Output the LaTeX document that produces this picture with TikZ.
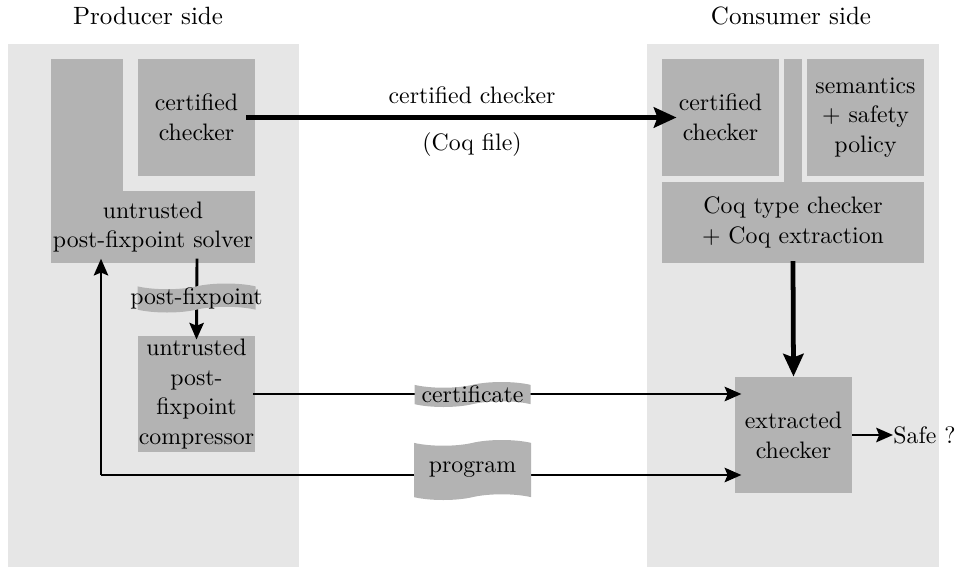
\documentclass[tikz,border=0pt]{standalone}
\usetikzlibrary{arrows.meta,shapes.symbols}
\definecolor{panel}{gray}{0.902}
\definecolor{boxc}{gray}{0.702}
\begin{document}
\begin{tikzpicture}[x=0.42pt,y=-0.42pt,
  txt/.style={font=\fontsize{10}{12.5}\selectfont, align=center},
  blk/.style={txt, fill=boxc, inner sep=0pt},
  ttl/.style={font=\fontsize{10.5}{13}\selectfont, inner sep=0pt},
  tp/.style={tape, fill=boxc, inner sep=0pt, tape bend height=2.4pt},
  thin arrow/.style={line width=1.2pt, -{Stealth[length=7pt,width=6pt,inset=1.2pt]}},
  thick arrow/.style={line width=2pt, -{Stealth[length=9.5pt,width=8.5pt,inset=1.5pt]}}]
\useasboundingbox (0,0) rectangle (956,567);
% panels
\fill[panel] (8,44) rectangle (299,567);
\fill[panel] (647,44) rectangle (939,567);
\node[ttl] (prod) at (148,16) {Producer side};
\node[ttl] (cons) at (791,16) {Consumer side};
% producer boxes
\fill[boxc] (51,59) rectangle (123,192);
\node[blk, minimum width=204*0.42pt, minimum height=72*0.42pt] (solver) at (153,227) {untrusted\\post-fixpoint solver};
\node[blk, minimum width=117*0.42pt, minimum height=117*0.42pt] (lcert) at (196.5,117.5) {certified\\checker};
\node[blk, minimum width=117*0.42pt, minimum height=116*0.42pt] (comp) at (196.5,394) {untrusted\\post-\\fixpoint\\compressor};
% consumer boxes
\fill[boxc] (784,59) rectangle (802,183);
\node[blk, minimum width=117*0.42pt, minimum height=117*0.42pt] (rcert) at (720.5,117.5) {certified\\checker};
\node[blk, minimum width=117*0.42pt, minimum height=117*0.42pt] (sem) at (865.5,117.5) {semantics\\+ safety\\policy};
\node[blk, minimum width=262*0.42pt, minimum height=81*0.42pt] (coq) at (793,222.5) {Coq type checker\\+ Coq extraction};
\node[blk, minimum width=117*0.42pt, minimum height=116*0.42pt] (extr) at (793.5,435) {extracted\\checker};
\node[txt, inner sep=0pt, anchor=west] (safe) at (893,435) {Safe ?};
% labels of the top connector
\node[txt, inner sep=0pt, anchor=base] (cclab) at (472,103) {certified checker};
\node[txt, inner sep=0pt, anchor=base] (coqfile) at (472,150) {(Coq file)};
% connectors
\draw[thick arrow] ([xshift=-3.8pt]lcert.east) -- ([xshift=6.3pt]rcert.west);
\draw[thin arrow] ([xshift=0.2pt,yshift=2pt]solver.south -| lcert.south) -- ([yshift=-1.7pt]comp.north);
\draw[thin arrow] ([xshift=-1pt]comp.east) -- ([xshift=2.9pt]extr.west |- comp.east);
\coordinate (pc) at (101,475);
\draw[thin arrow] (pc) -- ([xshift=2.9pt]extr.west |- pc);
\draw[thin arrow] (pc) -- ([yshift=2pt]solver.south -| pc);
\draw[thick arrow] ([yshift=1pt]coq.south) -- (extr.north);
\draw[thin arrow] (extr.east) -- (safe.west);
% tapes
\node[tp, minimum width=118*0.42pt, minimum height=29*0.42pt,
  label={[txt]center:post-fixpoint}] (pf) at (196.5,298) {};
\node[tp, minimum width=116*0.42pt, minimum height=25*0.42pt,
  label={[txt]center:certificate}] (cert) at (472.5,394.5) {};
\node[tp, minimum width=117*0.42pt, minimum height=60*0.42pt,
  label={[txt]center:program}] (prog) at (472.5,470) {};
\end{tikzpicture}
\end{document}
